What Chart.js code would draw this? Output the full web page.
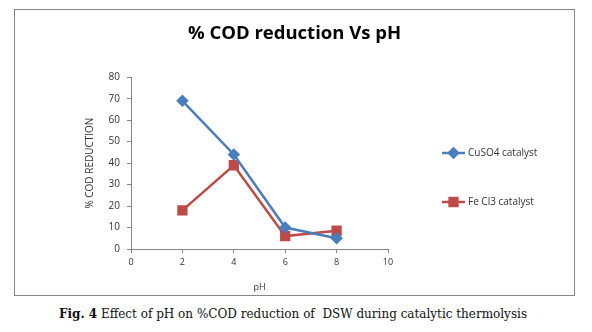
<!DOCTYPE html>
<html>
<head>
<meta charset="utf-8">
<script src="https://cdn.jsdelivr.net/npm/chart.js@4.4.0/dist/chart.umd.min.js"></script>
<style>
  body { margin: 0; background: #fff; }
  #box { position: absolute; left: 14px; top: 9px; width: 561px; height: 287px; border: 1px solid #868686; box-sizing: border-box; }
  #caption { position: absolute; left: 0; top: 307px; width: 586px; text-align: center; font-family: "DejaVu Serif", serif; font-size: 12px; color: #111; white-space: pre; }
</style>
</head>
<body>
<div id="box"><canvas id="chart" width="559" height="285"></canvas></div>
<div id="caption"><b>Fig. 4</b> Effect of pH on %COD reduction of  DSW during catalytic thermolysis</div>
<script>
const phValues = [2, 4, 6, 8];
const cuso4 = [69, 44, 10, 5];
const fecl3 = [18, 39, 6, 8.5];
const seriesNames = ['CuSO4 catalyst', 'Fe Cl3 catalyst'];

// legend drawn like the spreadsheet one: short line with marker, to the right of the plot
const sideLegend = {
    id: 'sideLegend',
    afterDraw(chart) {
        const ctx = chart.ctx;
        const rows = [143, 192];
        chart.data.datasets.forEach(function (ds, i) {
            const y = rows[i];
            const x0 = 427, x1 = 450;
            ctx.save();
            ctx.strokeStyle = ds.borderColor;
            ctx.lineWidth = 2.5;
            ctx.beginPath();
            ctx.moveTo(x0, y);
            ctx.lineTo(x1, y);
            ctx.stroke();
            ctx.fillStyle = ds.backgroundColor;
            ctx.strokeStyle = ds.borderColor;
            Chart.helpers.drawPoint(ctx, {
                pointStyle: ds.pointStyle,
                radius: ds.pointRadius,
                borderWidth: 1
            }, (x0 + x1) / 2, y);
            ctx.fillStyle = '#333';
            ctx.font = '10px "Open Sans", sans-serif';
            ctx.textBaseline = 'middle';
            ctx.fillText(ds.label, x1 + 3, y);
            ctx.restore();
        });
    }
};

const ctx = document.getElementById('chart').getContext('2d');
new Chart(ctx, {
    type: 'line',
    data: {
        datasets: [
            {
                label: seriesNames[0],
                data: phValues.map((x, i) => ({ x: x, y: cuso4[i] })),
                borderColor: '#4A7EBB',
                backgroundColor: '#4A7EBB',
                pointStyle: 'rectRot',
                pointRadius: 4.5,
                borderWidth: 2.5,
                tension: 0
            },
            {
                label: seriesNames[1],
                data: phValues.map((x, i) => ({ x: x, y: fecl3[i] })),
                borderColor: '#BE4B48',
                backgroundColor: '#BE4B48',
                pointStyle: 'rect',
                pointRadius: 5.5,
                borderWidth: 2.5,
                tension: 0
            }
        ]
    },
    options: {
        responsive: false,
        animation: false,
        plugins: {
            legend: { display: false },
            tooltip: { enabled: false },
            title: {
                display: true,
                text: '% COD reduction Vs pH',
                color: '#000',
                font: { family: '"Open Sans", sans-serif', size: 18.5, weight: 'bold' },
                padding: { top: 13, bottom: 32 }
            }
        },
        scales: {
            x: {
                type: 'linear',
                min: 0,
                max: 10,
                ticks: { stepSize: 2, color: '#333', font: { family: '"Open Sans", sans-serif', size: 9 }, padding: 4 },
                grid: { drawOnChartArea: false, drawTicks: true, tickLength: 4, color: '#868686' },
                border: { color: '#868686' },
                title: { display: true, text: 'pH', color: '#333', font: { family: '"Open Sans", sans-serif', size: 9 }, padding: { top: 6, bottom: 2 } },
                afterFit: function (scale) { scale.height = 46; }
            },
            y: {
                min: 0,
                max: 80,
                ticks: { stepSize: 10, color: '#333', font: { family: '"Open Sans", sans-serif', size: 10 }, padding: 7 },
                grid: { drawOnChartArea: false, drawTicks: true, tickLength: 4, color: '#868686' },
                border: { color: '#868686' },
                title: { display: true, text: '% COD REDUCTION', color: '#333', font: { family: '"Open Sans", sans-serif', size: 10 }, padding: { top: 69, bottom: 4 } },
                afterFit: function (scale) { scale.width = 116; }
            },
            // empty space on the right where the legend sits
            side: {
                position: 'right',
                display: true,
                ticks: { display: false },
                grid: { display: false },
                border: { display: false },
                afterFit: function (scale) { scale.width = 186; }
            }
        }
    },
    plugins: [sideLegend]
});
</script>
</body>
</html>
